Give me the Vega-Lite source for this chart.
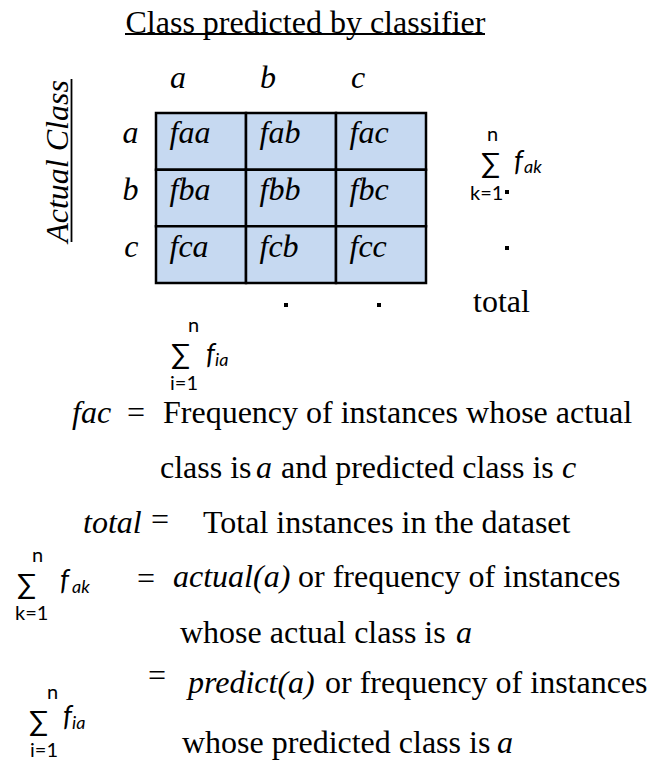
{
  "$schema": "https://vega.github.io/schema/vega-lite/v6.json",
  "width": 651,
  "height": 762,
  "autosize": {"type": "none"},
  "padding": 0,
  "background": "white",
  "config": {"view": {"stroke": null}},
  "datasets": {
    "cells": [
      {"actual": "a", "predicted": "a", "label": "faa"},
      {"actual": "a", "predicted": "b", "label": "fab"},
      {"actual": "a", "predicted": "c", "label": "fac"},
      {"actual": "b", "predicted": "a", "label": "fba"},
      {"actual": "b", "predicted": "b", "label": "fbb"},
      {"actual": "b", "predicted": "c", "label": "fbc"},
      {"actual": "c", "predicted": "a", "label": "fca"},
      {"actual": "c", "predicted": "b", "label": "fcb"},
      {"actual": "c", "predicted": "c", "label": "fcc"}
    ],
    "underlines": [
      {"x": 125, "y": 34, "x2": 485, "y2": 34},
      {"x": 71.5, "y": 79, "x2": 71.5, "y2": 242}
    ],
    "dots": [
      {"x": 507, "y": 192},
      {"x": 507, "y": 248},
      {"x": 286, "y": 305},
      {"x": 379, "y": 305}
    ],
    "notes": [
      {"role": "note", "text": "total", "x": 473, "y": 312},
      {"role": "note", "text": "=", "x": 127, "y": 423},
      {"role": "note", "text": "Frequency of instances whose actual", "x": 163, "y": 423},
      {"role": "note", "text": "class is", "x": 160, "y": 478},
      {"role": "note", "text": "and predicted class is", "x": 281, "y": 478},
      {"role": "note", "text": "=", "x": 151, "y": 530},
      {"role": "note", "text": "Total instances in the dataset", "x": 203, "y": 533},
      {"role": "note", "text": "=", "x": 137, "y": 589},
      {"role": "note", "text": "or frequency of instances", "x": 298, "y": 587},
      {"role": "note", "text": "whose actual class is", "x": 180, "y": 643},
      {"role": "note", "text": "=", "x": 148, "y": 686},
      {"role": "note", "text": "or frequency of instances", "x": 325, "y": 693},
      {"role": "note", "text": "whose predicted class is", "x": 182, "y": 753},
      {"role": "term", "text": "fac", "x": 72, "y": 423},
      {"role": "term", "text": "a", "x": 256, "y": 478},
      {"role": "term", "text": "c", "x": 562, "y": 478},
      {"role": "term", "text": "total", "x": 83, "y": 533},
      {"role": "term", "text": "actual(a)", "x": 173, "y": 587},
      {"role": "term", "text": "a", "x": 456, "y": 643},
      {"role": "term", "text": "predict(a)", "x": 188, "y": 693},
      {"role": "term", "text": "a", "x": 497, "y": 753},
      {"role": "limit", "text": "n", "x": 487, "y": 141},
      {"role": "limit", "text": "k=1", "x": 470, "y": 200},
      {"role": "limit", "text": "n", "x": 188, "y": 332},
      {"role": "limit", "text": "i=1", "x": 170, "y": 390},
      {"role": "limit", "text": "n", "x": 32, "y": 562},
      {"role": "limit", "text": "k=1", "x": 15, "y": 620},
      {"role": "limit", "text": "n", "x": 47, "y": 699},
      {"role": "limit", "text": "i=1", "x": 30, "y": 757},
      {"role": "sigma", "text": "∑", "x": 481, "y": 173},
      {"role": "sigma", "text": "∑", "x": 171, "y": 364},
      {"role": "sigma", "text": "∑", "x": 17, "y": 594},
      {"role": "sigma", "text": "∑", "x": 29, "y": 731},
      {"role": "fvar", "text": "f", "x": 514, "y": 171},
      {"role": "sub", "text": "ak", "x": 524, "y": 173},
      {"role": "fvar", "text": "f", "x": 206, "y": 364},
      {"role": "sub", "text": "ia", "x": 215, "y": 366},
      {"role": "fvar", "text": "f", "x": 60, "y": 590},
      {"role": "sub", "text": "ak", "x": 72, "y": 593},
      {"role": "fvar", "text": "f", "x": 63, "y": 726},
      {"role": "sub", "text": "ia", "x": 72, "y": 729}
    ]
  },
  "resolve": {"scale": {"x": "independent", "y": "independent"}},
  "layer": [
    {
      "data": {"name": "cells"},
      "mark": {"type": "rect", "fill": "#c6d9f1", "stroke": "#000000", "strokeWidth": 2.5},
      "encoding": {
        "x": {
          "field": "predicted", "type": "nominal",
          "scale": {"domain": ["a", "b", "c"], "range": [156, 426], "paddingInner": 0, "paddingOuter": 0},
          "axis": {
            "orient": "top", "offset": -113, "ticks": false, "tickSize": 0, "domain": false, "grid": false,
            "labelAngle": 0, "labelPadding": 26, "labelBaseline": "alphabetic", "labelOffset": -23,
            "labelFont": "Liberation Serif", "labelFontStyle": "italic", "labelFontSize": 32, "labelColor": "#000000",
            "title": "Class predicted by classifier",
            "titleFont": "Liberation Serif", "titleFontSize": 32, "titleFontWeight": "normal", "titleColor": "#000000",
            "titleX": 125, "titleY": -81, "titleAlign": "left", "titleBaseline": "alphabetic", "titleAngle": 0
          }
        },
        "y": {
          "field": "actual", "type": "nominal",
          "scale": {"domain": ["a", "b", "c"], "range": [113, 283], "paddingInner": 0, "paddingOuter": 0},
          "axis": {
            "orient": "left", "offset": -156, "ticks": false, "tickSize": 0, "domain": false, "grid": false,
            "labelAngle": 0, "labelPadding": 18, "labelAlign": "right", "labelBaseline": "alphabetic", "labelOffset": 2,
            "labelFont": "Liberation Serif", "labelFontStyle": "italic", "labelFontSize": 32, "labelColor": "#000000",
            "title": "Actual Class",
            "titleFont": "Liberation Serif", "titleFontStyle": "italic", "titleFontSize": 32, "titleFontWeight": "normal", "titleColor": "#000000",
            "titleX": -89, "titleY": 161, "titleAlign": "center", "titleBaseline": "alphabetic", "titleAngle": 270
          }
        }
      }
    },
    {
      "data": {"name": "cells"},
      "mark": {"type": "text", "align": "left", "baseline": "alphabetic", "xOffset": -31.5, "yOffset": 2,
               "font": "Liberation Serif", "fontStyle": "italic", "fontSize": 32, "color": "#000000"},
      "encoding": {
        "x": {"field": "predicted", "type": "nominal",
              "scale": {"domain": ["a", "b", "c"], "range": [156, 426], "paddingInner": 0, "paddingOuter": 0}, "axis": null},
        "y": {"field": "actual", "type": "nominal",
              "scale": {"domain": ["a", "b", "c"], "range": [113, 283], "paddingInner": 0, "paddingOuter": 0}, "axis": null},
        "text": {"field": "label"}
      }
    },
    {
      "encoding": {
        "x": {"field": "x", "type": "quantitative", "scale": {"domain": [0, 651], "nice": false, "zero": false}, "axis": null},
        "y": {"field": "y", "type": "quantitative", "scale": {"domain": [0, 762], "nice": false, "zero": false, "reverse": true}, "axis": null}
      },
      "layer": [
        {
          "data": {"name": "underlines"},
          "mark": {"type": "rule", "color": "#000000", "strokeWidth": 1.8},
          "encoding": {"x2": {"field": "x2"}, "y2": {"field": "y2"}}
        },
        {
          "data": {"name": "dots"},
          "mark": {"type": "point", "shape": "square", "filled": true, "size": 16, "color": "#000000", "opacity": 1}
        },
        {
          "data": {"name": "notes"},
          "transform": [{"filter": "datum.role === 'note'"}],
          "mark": {"type": "text", "align": "left", "baseline": "alphabetic", "font": "Liberation Serif", "fontSize": 32, "color": "#000000"},
          "encoding": {"text": {"field": "text"}}
        },
        {
          "data": {"name": "notes"},
          "transform": [{"filter": "datum.role === 'term'"}],
          "mark": {"type": "text", "align": "left", "baseline": "alphabetic", "font": "Liberation Serif", "fontStyle": "italic", "fontSize": 32, "color": "#000000"},
          "encoding": {"text": {"field": "text"}}
        },
        {
          "data": {"name": "notes"},
          "transform": [{"filter": "datum.role === 'limit'"}],
          "mark": {"type": "text", "align": "left", "baseline": "alphabetic", "font": "Lato", "fontSize": 20, "color": "#000000"},
          "encoding": {"text": {"field": "text"}}
        },
        {
          "data": {"name": "notes"},
          "transform": [{"filter": "datum.role === 'sigma'"}],
          "mark": {"type": "text", "align": "left", "baseline": "alphabetic", "font": "Lato, DejaVu Sans", "fontSize": 28, "color": "#000000"},
          "encoding": {"text": {"field": "text"}}
        },
        {
          "data": {"name": "notes"},
          "transform": [{"filter": "datum.role === 'fvar'"}],
          "mark": {"type": "text", "align": "left", "baseline": "alphabetic", "font": "Lato", "fontStyle": "italic", "fontSize": 28, "color": "#000000"},
          "encoding": {"text": {"field": "text"}}
        },
        {
          "data": {"name": "notes"},
          "transform": [{"filter": "datum.role === 'sub'"}],
          "mark": {"type": "text", "align": "left", "baseline": "alphabetic", "font": "Lato", "fontStyle": "italic", "fontSize": 18, "color": "#000000"},
          "encoding": {"text": {"field": "text"}}
        }
      ]
    }
  ]
}
